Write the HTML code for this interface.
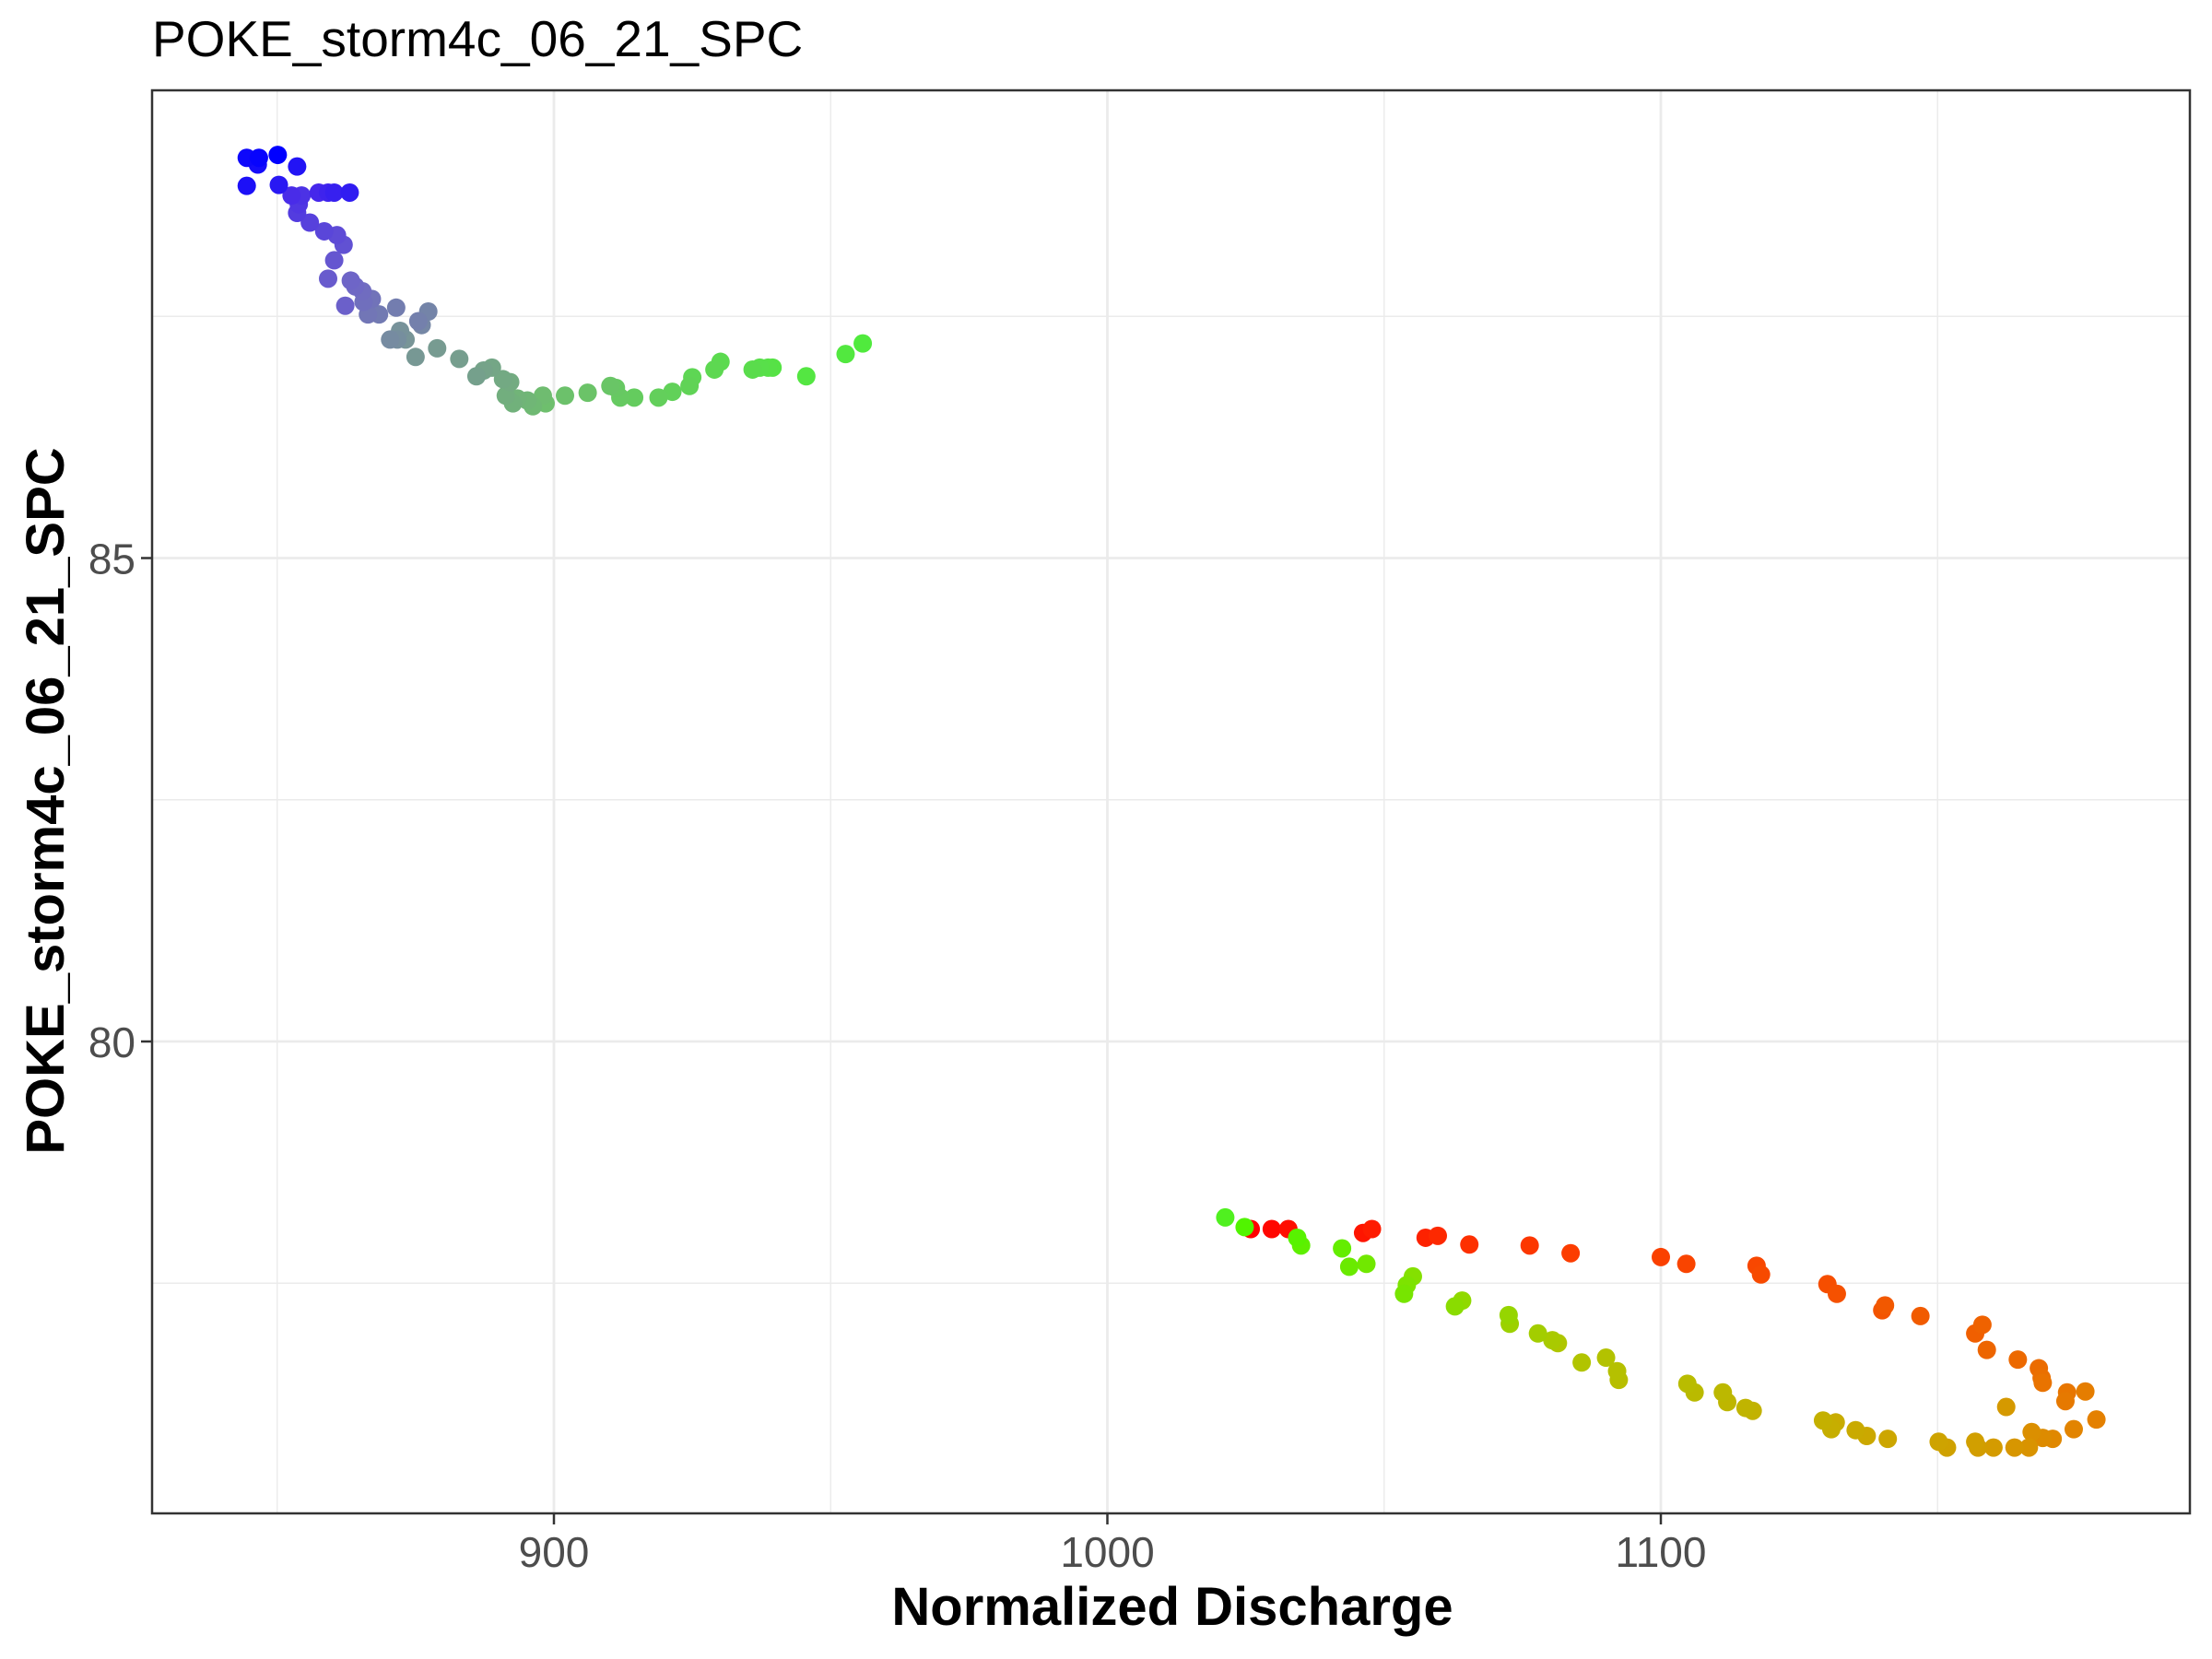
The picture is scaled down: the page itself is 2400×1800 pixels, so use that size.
<!DOCTYPE html>
<html><head><meta charset="utf-8">
<style>
html,body{margin:0;padding:0;background:#fff;}
svg{display:block;font-family:"Liberation Sans",sans-serif;}
</style></head>
<body>
<svg id="chart" width="2400" height="1800" viewBox="0 0 2400 1800" xmlns="http://www.w3.org/2000/svg">
<rect x="0" y="0" width="2400" height="1800" fill="#fff"/>
<text x="165" y="61" font-size="55" fill="#000">POKE_storm4c_06_21_SPC</text>
<g id="grid"></g>
<g id="points"></g>
<rect x="165" y="98" width="2211" height="1544" fill="none" stroke="#333" stroke-width="2.5"/>
<g id="axes"></g>
<text x="1272" y="1763" font-size="58" font-weight="bold" text-anchor="middle" fill="#000">Normalized Discharge</text>
<text transform="translate(69,869) rotate(-90)" font-size="58" font-weight="bold" text-anchor="middle" fill="#000">POKE_storm4c_06_21_SPC</text>
</svg>
<script>
const xTicks = [900, 1000, 1100];
const xMinor = [850, 950, 1050, 1150];
const yTicks = [80, 85];
const yMinor = [77.5, 82.5, 87.5];
const discharge = [
1025.9,1029.7,1032.7,1046.2,1047.8,1057.5,1059.7,1065.4,1076.3,1083.7,1100.0,1104.6,1117.3,1118.1,1130.1,1131.8,1140.0,1140.5,1146.9,1156.8,1158.1,1158.9,1164.5,1168.3,1168.8,1169.0,1173.4,1173.1,1176.7,1178.7,1174.6,
1170.8,1169.0,1167.0,1166.5,1163.9,1162.4,1160.1,1157.3,1156.8,1151.7,1150.2,1141.0,1137.2,1135.2,1131.6,1130.8,1129.3,1116.6,1115.3,1112.0,1111.2,1106.1,1104.8,1092.4,1092.1,1090.1,1085.7,1081.4,1080.4,1077.8,1072.7,1072.5,1064.1,1062.8,1055.2,1054.1,1053.6,1046.8,1043.7,1042.4,1035.0,1034.3,1024.8,1021.3,
955.8,952.7,945.6,939.5,938.7,937.2,935.9,930.1,929.0,925.0,924.5,921.4,918.9,914.5,912.0,911.2,910.2,906.1,902.0,898.5,898.0,896.2,895.2,893.4,892.6,891.3,892.1,890.8,888.8,887.3,886.0,882.9,878.9,875.0,873.2,872.2,871.7,870.4,876.1,877.3,875.5,871.5,868.4,866.4,867.1,865.6,865.4,864.1,863.3,862.3,859.2,860.3,862.0,860.8,858.5,855.9,853.6,853.9,854.4,852.6,857.5,859.2,860.3,863.1,850.3,853.6,844.5,846.5,844.5,846.7,850.1];
const spc = [
78.06,78.06,78.06,78.02,78.06,77.97,77.99,77.90,77.89,77.81,77.77,77.70,77.68,77.59,77.49,77.39,77.22,77.27,77.16,76.98,77.07,76.81,76.71,76.62,76.52,76.47,76.37,76.28,76.38,76.09,75.99,
75.89,75.90,75.96,75.80,75.80,76.22,75.80,75.80,75.86,75.80,75.86,75.89,75.92,75.98,76.06,75.99,76.08,76.18,76.21,76.27,76.37,76.37,76.46,76.50,76.59,76.73,76.68,76.88,76.91,76.98,77.08,77.17,77.32,77.26,77.57,77.48,77.39,77.70,77.67,77.86,77.89,77.97,78.08,78.18,
87.22,87.11,86.88,86.97,86.97,86.97,86.95,87.03,86.95,86.87,86.78,86.72,86.66,86.66,86.66,86.76,86.78,86.71,86.68,86.60,86.68,86.57,86.63,86.65,86.60,86.68,86.82,86.85,86.97,86.94,86.88,87.06,87.17,87.08,87.26,87.35,87.26,87.26,87.41,87.55,87.45,87.59,87.52,87.52,87.68,87.65,87.76,87.81,87.87,87.61,87.89,88.08,88.24,88.34,88.38,88.47,88.57,88.66,88.75,88.75,88.78,88.78,88.78,88.78,88.86,89.05,88.85,89.07,89.14,89.14,89.17];

const NS = "http://www.w3.org/2000/svg";
const PL = 165, PR = 2376, PT = 98, PB = 1642;
function xs(v){ return 601 + (v - 900) * 6.005; }
function ys(v){ return 605.5 - (v - 85) * 104.9; }
function mk(tag, attrs, parent){
  const e = document.createElementNS(NS, tag);
  for (const k in attrs) e.setAttribute(k, attrs[k]);
  parent.appendChild(e);
  return e;
}
const grid = document.getElementById('grid');
const axes = document.getElementById('axes');
const pts = document.getElementById('points');

xMinor.forEach(v => {
  const l = mk('line', {x1: xs(v), x2: xs(v), y1: PT, y2: PB, stroke: '#ebebeb', 'stroke-width': 1.4}, grid);
  
  
});
yMinor.forEach(v => {
  const l = mk('line', {x1: PL, x2: PR, y1: ys(v), y2: ys(v), stroke: '#ebebeb', 'stroke-width': 1.4}, grid);
  
  
});
xTicks.forEach(v => {
  const l = mk('line', {x1: xs(v), x2: xs(v), y1: PT, y2: PB, stroke: '#ebebeb', 'stroke-width': 2.8}, grid);
  
  
  const t = mk('line', {x1: xs(v), x2: xs(v), y1: PB, y2: PB + 12, stroke: '#333', 'stroke-width': 2.5}, axes);
  
  
  const tx = mk('text', {x: xs(v), y: 1700, 'font-size': 46, fill: '#4d4d4d', 'text-anchor': 'middle'}, axes);
  tx.textContent = String(v);
  
  
});
yTicks.forEach(v => {
  const l = mk('line', {x1: PL, x2: PR, y1: ys(v), y2: ys(v), stroke: '#ebebeb', 'stroke-width': 2.8}, grid);
  
  
  const t = mk('line', {x1: PL - 12, x2: PL, y1: ys(v), y2: ys(v), stroke: '#333', 'stroke-width': 2.5}, axes);
  
  
  const tx = mk('text', {x: 147, y: ys(v) + 17, 'font-size': 46, fill: '#4d4d4d', 'text-anchor': 'end'}, axes);
  tx.textContent = String(v);
  
  
});

// colour ramp by time order
const stops = [
  [0.00, [255, 0, 0]],
  [0.06, [252, 60, 0]],
  [0.20, [228, 128, 0]],
  [0.24, [215, 150, 0]],
  [0.31, [200, 172, 0]],
  [0.40, [175, 198, 0]],
  [0.45, [130, 225, 0]],
  [0.505, [80, 245, 0]],
  [0.515, [80, 235, 60]],
  [0.65, [110, 190, 110]],
  [0.75, [120, 150, 150]],
  [0.85, [110, 100, 200]],
  [0.93, [70, 40, 235]],
  [1.00, [0, 0, 255]]
];
function col(t){
  for (let i = 1; i < stops.length; i++) {
    if (t <= stops[i][0]) {
      const a = stops[i-1], b = stops[i];
      const f = (t - a[0]) / (b[0] - a[0]);
      const c = a[1].map((v, k) => Math.round(v + (b[1][k] - v) * f));
      return 'rgb(' + c.join(',') + ')';
    }
  }
  return 'rgb(0,0,255)';
}
const n = discharge.length;
for (let i = 0; i < n; i++) {
  const c = mk('circle', {cx: xs(discharge[i]), cy: ys(spc[i]), r: 10, fill: col(i / (n - 1))}, pts);
  
  
}
</script>
</body></html>
